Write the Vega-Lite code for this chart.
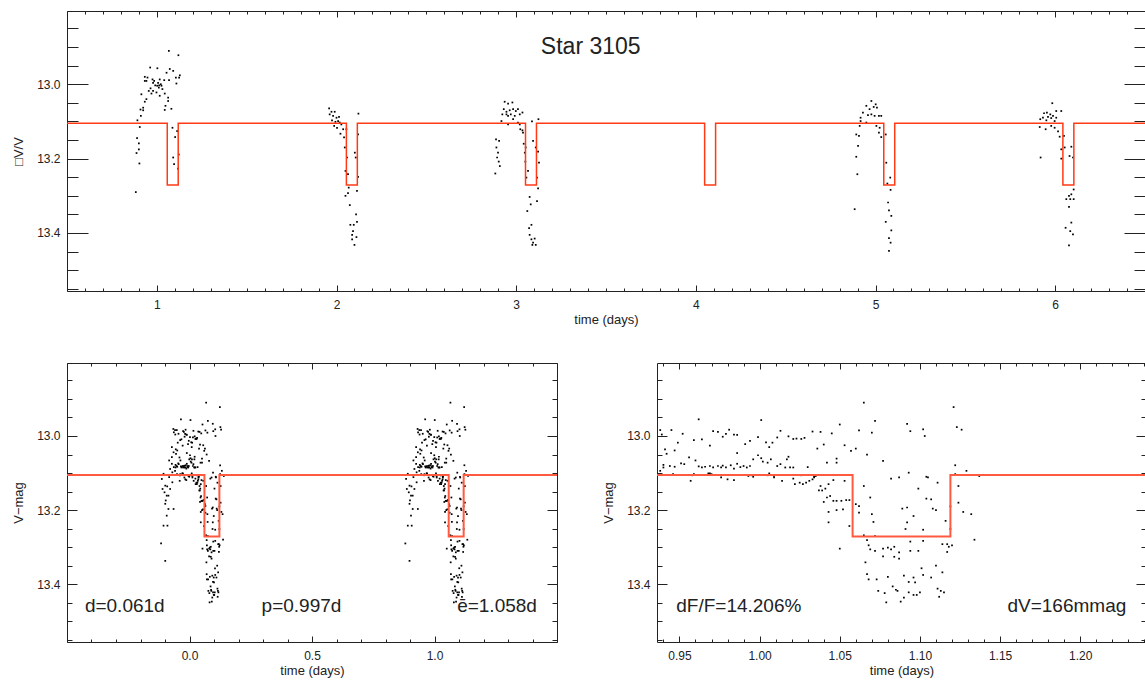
{
  "$schema": "https://vega.github.io/schema/vega-lite/v6.json",
  "padding": {"left": 12, "top": 10, "right": 0, "bottom": 0},
  "config": {
    "font": "Liberation Sans",
    "view": {"stroke": "#222", "strokeWidth": 1},
    "axis": {"grid": false, "domain": false, "labelFontSize": 12, "labelColor": "#222", "titleFontSize": 13, "titleFontWeight": "normal", "titleColor": "#222", "tickColor": "#222", "tickWidth": 1, "labelOverlap": false, "labelFlush": false},
    "text": {"font": "Liberation Sans", "color": "#222"}
  },
  "datasets": {
    "series": [
      {"t":1.067,"m":12.910},{"t":1.120,"m":12.922},{"t":0.963,"m":12.955},{"t":1.003,"m":12.957},{"t":1.072,"m":12.959},{"t":0.933,"m":12.980},{"t":0.948,"m":12.982},{"t":0.976,"m":12.987},{"t":1.016,"m":12.987},{"t":1.041,"m":12.989},{"t":1.054,"m":12.969},{"t":1.068,"m":12.989},{"t":1.091,"m":12.964},{"t":1.106,"m":12.982},{"t":1.128,"m":12.976},{"t":1.124,"m":12.982},{"t":1.109,"m":12.998},{"t":0.933,"m":12.991},{"t":0.942,"m":12.991},{"t":0.979,"m":12.996},{"t":0.991,"m":13.003},{"t":1.002,"m":13.004},{"t":1.013,"m":13.003},{"t":1.026,"m":13.004},{"t":0.965,"m":13.011},{"t":0.955,"m":13.018},{"t":0.979,"m":13.018},{"t":0.998,"m":13.022},{"t":1.011,"m":13.009},{"t":1.031,"m":13.013},{"t":0.970,"m":13.025},{"t":0.942,"m":13.040},{"t":0.933,"m":13.047},{"t":0.914,"m":13.027},{"t":1.016,"m":13.031},{"t":1.044,"m":13.025},{"t":1.063,"m":13.036},{"t":1.063,"m":13.045},{"t":1.048,"m":13.058},{"t":1.044,"m":13.069},{"t":1.081,"m":13.066},{"t":0.924,"m":13.063},{"t":0.924,"m":13.070},{"t":0.909,"m":13.068},{"t":0.911,"m":13.085},{"t":0.892,"m":13.097},{"t":0.905,"m":13.115},{"t":0.890,"m":13.145},{"t":0.900,"m":13.159},{"t":0.900,"m":13.175},{"t":0.887,"m":13.185},{"t":0.903,"m":13.213},{"t":0.883,"m":13.290},{"t":1.087,"m":13.117},{"t":1.113,"m":13.126},{"t":1.102,"m":13.142},{"t":1.122,"m":13.189},{"t":1.091,"m":13.197},{"t":1.118,"m":13.227},{"t":1.096,"m":13.215},{"t":0.985,"m":12.991},{"t":1.007,"m":12.996},{"t":1.022,"m":13.000},
      {"t":1.959,"m":13.065},{"t":1.972,"m":13.074},{"t":1.990,"m":13.074},{"t":1.962,"m":13.081},{"t":1.981,"m":13.085},{"t":2.000,"m":13.090},{"t":2.014,"m":13.088},{"t":1.975,"m":13.097},{"t":1.994,"m":13.101},{"t":2.009,"m":13.099},{"t":2.018,"m":13.103},{"t":2.027,"m":13.108},{"t":1.987,"m":13.112},{"t":2.003,"m":13.117},{"t":2.037,"m":13.121},{"t":2.055,"m":13.121},{"t":2.022,"m":13.133},{"t":2.042,"m":13.143},{"t":2.046,"m":13.170},{"t":2.059,"m":13.197},{"t":2.050,"m":13.233},{"t":2.064,"m":13.242},{"t":2.102,"m":13.184},{"t":2.107,"m":13.197},{"t":2.120,"m":13.135},{"t":2.122,"m":13.079},{"t":2.120,"m":13.249},{"t":2.068,"m":13.278},{"t":2.064,"m":13.293},{"t":2.050,"m":13.300},{"t":2.114,"m":13.287},{"t":2.074,"m":13.325},{"t":2.109,"m":13.350},{"t":2.114,"m":13.370},{"t":2.077,"m":13.378},{"t":2.096,"m":13.378},{"t":2.092,"m":13.395},{"t":2.087,"m":13.405},{"t":2.111,"m":13.411},{"t":2.087,"m":13.417},{"t":2.100,"m":13.432},
      {"t":2.936,"m":13.047},{"t":2.955,"m":13.052},{"t":2.979,"m":13.049},{"t":2.931,"m":13.067},{"t":2.946,"m":13.074},{"t":2.964,"m":13.070},{"t":2.983,"m":13.067},{"t":2.998,"m":13.072},{"t":3.010,"m":13.067},{"t":2.923,"m":13.081},{"t":2.946,"m":13.081},{"t":2.970,"m":13.081},{"t":2.992,"m":13.085},{"t":3.020,"m":13.081},{"t":3.035,"m":13.076},{"t":2.918,"m":13.099},{"t":2.955,"m":13.108},{"t":2.983,"m":13.094},{"t":3.010,"m":13.103},{"t":3.020,"m":13.108},{"t":3.023,"m":13.121},{"t":3.035,"m":13.124},{"t":3.038,"m":13.130},{"t":3.042,"m":13.160},{"t":3.053,"m":13.170},{"t":3.048,"m":13.184},{"t":3.051,"m":13.208},{"t":3.057,"m":13.251},{"t":3.066,"m":13.233},{"t":3.088,"m":13.100},{"t":3.124,"m":13.094},{"t":3.094,"m":13.152},{"t":3.109,"m":13.170},{"t":3.122,"m":13.181},{"t":3.127,"m":13.211},{"t":3.116,"m":13.251},{"t":3.122,"m":13.280},{"t":3.075,"m":13.303},{"t":3.116,"m":13.314},{"t":3.081,"m":13.323},{"t":3.062,"m":13.341},{"t":3.085,"m":13.378},{"t":3.072,"m":13.387},{"t":3.075,"m":13.405},{"t":3.085,"m":13.417},{"t":3.103,"m":13.415},{"t":3.094,"m":13.426},{"t":3.109,"m":13.432},{"t":3.090,"m":13.432},{"t":2.888,"m":13.148},{"t":2.905,"m":13.152},{"t":2.890,"m":13.170},{"t":2.899,"m":13.184},{"t":2.894,"m":13.197},{"t":2.903,"m":13.208},{"t":2.909,"m":13.220},{"t":2.884,"m":13.240},{"t":2.955,"m":13.085},
      {"t":4.977,"m":13.045},{"t":5.001,"m":13.054},{"t":4.949,"m":13.058},{"t":4.967,"m":13.067},{"t":4.990,"m":13.061},{"t":5.008,"m":13.063},{"t":4.958,"m":13.083},{"t":4.977,"m":13.081},{"t":4.995,"m":13.085},{"t":5.019,"m":13.085},{"t":5.032,"m":13.085},{"t":4.917,"m":13.090},{"t":4.949,"m":13.103},{"t":4.912,"m":13.112},{"t":5.005,"m":13.112},{"t":5.023,"m":13.117},{"t":5.019,"m":13.130},{"t":5.032,"m":13.142},{"t":4.893,"m":13.135},{"t":4.908,"m":13.139},{"t":4.903,"m":13.166},{"t":4.893,"m":13.195},{"t":4.899,"m":13.242},{"t":4.884,"m":13.336},{"t":5.057,"m":13.135},{"t":5.060,"m":13.211},{"t":5.066,"m":13.267},{"t":5.082,"m":13.251},{"t":5.084,"m":13.284},{"t":5.070,"m":13.318},{"t":5.075,"m":13.339},{"t":5.088,"m":13.354},{"t":5.057,"m":13.370},{"t":5.088,"m":13.393},{"t":5.075,"m":13.414},{"t":5.084,"m":13.426},{"t":5.075,"m":13.448},{"t":4.930,"m":13.076},{"t":4.917,"m":13.099},
      {"t":5.984,"m":13.051},{"t":6.034,"m":13.072},{"t":6.006,"m":13.072},{"t":5.938,"m":13.078},{"t":5.954,"m":13.076},{"t":5.973,"m":13.081},{"t":5.988,"m":13.085},{"t":5.932,"m":13.090},{"t":5.960,"m":13.088},{"t":5.978,"m":13.091},{"t":6.006,"m":13.090},{"t":5.951,"m":13.097},{"t":5.997,"m":13.099},{"t":5.917,"m":13.094},{"t":5.914,"m":13.115},{"t":5.947,"m":13.121},{"t":5.978,"m":13.112},{"t":5.997,"m":13.117},{"t":6.016,"m":13.127},{"t":6.025,"m":13.141},{"t":6.049,"m":13.139},{"t":6.034,"m":13.175},{"t":6.053,"m":13.170},{"t":6.080,"m":13.193},{"t":6.099,"m":13.197},{"t":6.090,"m":13.168},{"t":5.919,"m":13.197},{"t":6.034,"m":13.200},{"t":6.103,"m":13.283},{"t":6.090,"m":13.296},{"t":6.062,"m":13.309},{"t":6.077,"m":13.300},{"t":6.084,"m":13.309},{"t":6.103,"m":13.309},{"t":6.077,"m":13.330},{"t":6.058,"m":13.386},{"t":6.090,"m":13.372},{"t":6.084,"m":13.395},{"t":6.099,"m":13.404},{"t":6.077,"m":13.433}
    ],
    "folded": [
      {"a":-0.035,"b":0.962,"m":12.955},{"a":0.004,"b":1.001,"m":12.957},{"a":0.068,"b":1.065,"m":12.910},{"a":0.053,"b":1.050,"m":12.969},{"a":0.075,"b":1.072,"m":12.959},{"a":0.095,"b":1.092,"m":12.967},{"a":0.097,"b":1.094,"m":12.987},{"a":0.105,"b":1.102,"m":12.982},{"a":0.106,"b":1.103,"m":13.000},{"a":0.124,"b":1.121,"m":12.922},{"a":0.126,"b":1.123,"m":12.976},{"a":0.129,"b":1.126,"m":12.983},{"a":0.065,"b":1.062,"m":12.985},{"a":0.073,"b":1.070,"m":12.991},{"a":0.070,"b":1.067,"m":13.050},{"a":0.080,"b":1.077,"m":13.067},{"a":0.125,"b":1.122,"m":13.079},{"a":0.132,"b":1.129,"m":13.094},{"a":0.096,"b":1.093,"m":13.099},{"a":0.140,"b":1.137,"m":13.108},
      {"a":-0.059,"b":0.938,"m":12.984},{"a":-0.058,"b":0.939,"m":12.996},{"a":-0.052,"b":0.945,"m":12.984},{"a":-0.045,"b":0.952,"m":12.994},{"a":-0.048,"b":0.949,"m":13.018},{"a":-0.056,"b":0.941,"m":13.036},{"a":-0.055,"b":0.942,"m":13.048},{"a":-0.050,"b":0.947,"m":13.039},{"a":-0.038,"b":0.959,"m":13.011},{"a":-0.033,"b":0.964,"m":13.009},{"a":-0.028,"b":0.969,"m":13.026},{"a":-0.026,"b":0.971,"m":12.987},{"a":-0.023,"b":0.974,"m":12.989},{"a":-0.020,"b":0.977,"m":13.002},{"a":-0.016,"b":0.981,"m":12.983},{"a":-0.018,"b":0.979,"m":12.994},{"a":-0.013,"b":0.984,"m":12.996},{"a":-0.011,"b":0.986,"m":12.997},{"a":-0.003,"b":0.994,"m":13.013},{"a":0.002,"b":0.999,"m":13.003},{"a":-0.006,"b":0.991,"m":13.022},{"a":-0.011,"b":0.986,"m":13.046},{"a":0.007,"b":1.004,"m":13.017},{"a":0.009,"b":1.006,"m":13.030},{"a":0.011,"b":1.008,"m":13.018},{"a":0.014,"b":1.011,"m":13.004},{"a":0.016,"b":1.013,"m":12.986},{"a":0.021,"b":1.018,"m":13.001},{"a":0.024,"b":1.021,"m":13.008},{"a":0.026,"b":1.023,"m":13.007},{"a":0.029,"b":1.026,"m":13.008},{"a":0.031,"b":1.028,"m":13.005},{"a":0.036,"b":1.033,"m":12.988},{"a":0.041,"b":1.038,"m":12.989},{"a":0.048,"b":1.045,"m":12.993},{"a":0.039,"b":1.036,"m":13.034},{"a":0.043,"b":1.040,"m":13.023},{"a":0.056,"b":1.053,"m":13.025},{"a":0.060,"b":1.057,"m":13.040},{"a":0.063,"b":1.060,"m":13.034},
      {"a":0.045,"b":1.042,"m":13.072},{"a":0.051,"b":1.048,"m":13.061},{"a":0.051,"b":1.048,"m":13.072},{"a":0.033,"b":1.030,"m":13.084},{"a":0.021,"b":1.018,"m":13.056},{"a":0.020,"b":1.017,"m":13.063},{"a":0.016,"b":1.013,"m":13.076},{"a":0.019,"b":1.016,"m":13.085},{"a":0.022,"b":1.019,"m":13.085},{"a":0.024,"b":1.021,"m":13.085},{"a":0.014,"b":1.011,"m":13.081},{"a":0.010,"b":1.007,"m":13.063},{"a":0.008,"b":1.005,"m":13.072},{"a":0.004,"b":1.001,"m":13.060},{"a":0.005,"b":1.002,"m":13.069},{"a":0.002,"b":0.999,"m":13.052},{"a":-0.001,"b":0.996,"m":13.063},{"a":-0.003,"b":0.994,"m":13.081},{"a":-0.005,"b":0.992,"m":13.085},{"a":-0.007,"b":0.990,"m":13.081},{"a":-0.009,"b":0.988,"m":13.084},{"a":-0.011,"b":0.986,"m":13.075},{"a":-0.013,"b":0.984,"m":13.088},{"a":-0.015,"b":0.982,"m":13.079},{"a":-0.018,"b":0.979,"m":13.085},{"a":-0.020,"b":0.977,"m":13.080},{"a":-0.021,"b":0.976,"m":13.085},{"a":-0.023,"b":0.974,"m":13.081},{"a":-0.026,"b":0.971,"m":13.085},{"a":-0.028,"b":0.969,"m":13.081},{"a":-0.031,"b":0.966,"m":13.083},{"a":-0.033,"b":0.964,"m":13.085},{"a":-0.035,"b":0.962,"m":13.082},{"a":-0.037,"b":0.960,"m":13.066},{"a":-0.041,"b":0.956,"m":13.058},{"a":-0.044,"b":0.953,"m":13.076},{"a":-0.046,"b":0.951,"m":13.074},{"a":-0.050,"b":0.947,"m":13.083},{"a":-0.053,"b":0.944,"m":13.081},{"a":-0.057,"b":0.940,"m":13.078},{"a":-0.059,"b":0.938,"m":13.094},{"a":-0.057,"b":0.940,"m":13.085},{"a":-0.039,"b":0.958,"m":13.106},{"a":-0.028,"b":0.969,"m":13.101},{"a":-0.021,"b":0.976,"m":13.112},{"a":-0.002,"b":0.995,"m":13.106},{"a":0.008,"b":1.005,"m":13.106},{"a":0.012,"b":1.009,"m":13.112},{"a":0.029,"b":1.026,"m":13.106},{"a":0.037,"b":1.034,"m":13.110},{"a":0.085,"b":1.082,"m":13.115},{"a":0.090,"b":1.087,"m":13.112},{"a":0.107,"b":1.104,"m":13.110},{"a":0.125,"b":1.122,"m":13.103},
      {"a":-0.051,"b":0.946,"m":13.103},{"a":-0.040,"b":0.957,"m":13.121},{"a":-0.038,"b":0.959,"m":13.103},{"a":-0.029,"b":0.968,"m":13.101},{"a":-0.027,"b":0.970,"m":13.103},{"a":-0.017,"b":0.980,"m":13.117},{"a":-0.013,"b":0.984,"m":13.119},{"a":-0.004,"b":0.993,"m":13.108},{"a":-0.001,"b":0.996,"m":13.110},{"a":0.009,"b":1.006,"m":13.101},{"a":0.012,"b":1.009,"m":13.108},{"a":0.017,"b":1.014,"m":13.121},{"a":0.024,"b":1.021,"m":13.115},{"a":0.025,"b":1.022,"m":13.130},{"a":0.028,"b":1.025,"m":13.126},{"a":0.030,"b":1.027,"m":13.130},{"a":0.032,"b":1.029,"m":13.126},{"a":0.034,"b":1.031,"m":13.121},{"a":0.036,"b":1.033,"m":13.117},{"a":0.037,"b":1.034,"m":13.112},{"a":0.038,"b":1.035,"m":13.108},{"a":0.041,"b":1.038,"m":13.135},{"a":0.042,"b":1.039,"m":13.147},{"a":0.044,"b":1.041,"m":13.142},{"a":0.046,"b":1.043,"m":13.130},{"a":0.049,"b":1.046,"m":13.119},{"a":0.040,"b":1.037,"m":13.147},{"a":0.043,"b":1.040,"m":13.178},{"a":0.045,"b":1.042,"m":13.166},{"a":0.047,"b":1.044,"m":13.162},{"a":0.049,"b":1.046,"m":13.175},{"a":0.051,"b":1.048,"m":13.175},{"a":0.054,"b":1.051,"m":13.175},{"a":0.056,"b":1.053,"m":13.121},{"a":0.057,"b":1.054,"m":13.173},{"a":0.059,"b":1.056,"m":13.173},{"a":0.046,"b":1.043,"m":13.205},{"a":0.046,"b":1.043,"m":13.233},{"a":0.051,"b":1.048,"m":13.200},{"a":0.055,"b":1.052,"m":13.198},{"a":0.059,"b":1.056,"m":13.243},{"a":0.053,"b":1.050,"m":13.304},{"a":0.063,"b":1.060,"m":13.184},{"a":0.065,"b":1.062,"m":13.189},{"a":0.065,"b":1.062,"m":13.207},{"a":0.068,"b":1.065,"m":13.135},{"a":0.072,"b":1.069,"m":13.166},{"a":0.073,"b":1.070,"m":13.211},{"a":0.074,"b":1.071,"m":13.232},{"a":0.068,"b":1.065,"m":13.268},{"a":0.070,"b":1.067,"m":13.281},{"a":0.075,"b":1.072,"m":13.270},
      {"a":0.102,"b":1.099,"m":13.142},{"a":0.108,"b":1.105,"m":13.112},{"a":0.114,"b":1.111,"m":13.126},{"a":0.107,"b":1.104,"m":13.169},{"a":0.110,"b":1.107,"m":13.171},{"a":0.111,"b":1.108,"m":13.196},{"a":0.113,"b":1.110,"m":13.200},{"a":0.092,"b":1.089,"m":13.196},{"a":0.095,"b":1.092,"m":13.193},{"a":0.099,"b":1.096,"m":13.216},{"a":0.095,"b":1.092,"m":13.233},{"a":0.094,"b":1.091,"m":13.251},{"a":0.105,"b":1.102,"m":13.253},{"a":0.119,"b":1.116,"m":13.229},{"a":0.122,"b":1.119,"m":13.190},{"a":0.122,"b":1.119,"m":13.251},{"a":0.127,"b":1.124,"m":13.135},{"a":0.127,"b":1.124,"m":13.180},{"a":0.130,"b":1.127,"m":13.205},{"a":0.135,"b":1.132,"m":13.211},{"a":0.137,"b":1.134,"m":13.280},{"a":0.097,"b":1.094,"m":13.285},{"a":0.105,"b":1.102,"m":13.283},{"a":0.071,"b":1.068,"m":13.295},{"a":0.072,"b":1.069,"m":13.306},{"a":0.075,"b":1.072,"m":13.310},{"a":0.080,"b":1.077,"m":13.304},{"a":0.083,"b":1.080,"m":13.301},{"a":0.085,"b":1.082,"m":13.306},{"a":0.087,"b":1.084,"m":13.299},{"a":0.080,"b":1.077,"m":13.325},{"a":0.087,"b":1.084,"m":13.326},{"a":0.090,"b":1.087,"m":13.331},{"a":0.097,"b":1.094,"m":13.310},{"a":0.102,"b":1.099,"m":13.310},{"a":0.090,"b":1.087,"m":13.314},{"a":0.117,"b":1.114,"m":13.292},{"a":0.120,"b":1.117,"m":13.292},{"a":0.121,"b":1.118,"m":13.299},{"a":0.123,"b":1.120,"m":13.295},{"a":0.120,"b":1.117,"m":13.313},
      {"a":0.069,"b":1.066,"m":13.341},{"a":0.070,"b":1.067,"m":13.373},{"a":0.071,"b":1.068,"m":13.387},{"a":0.076,"b":1.073,"m":13.387},{"a":0.083,"b":1.080,"m":13.380},{"a":0.093,"b":1.090,"m":13.377},{"a":0.096,"b":1.093,"m":13.394},{"a":0.099,"b":1.096,"m":13.382},{"a":0.100,"b":1.097,"m":13.395},{"a":0.104,"b":1.101,"m":13.357},{"a":0.105,"b":1.102,"m":13.375},{"a":0.110,"b":1.107,"m":13.382},{"a":0.113,"b":1.110,"m":13.350},{"a":0.117,"b":1.114,"m":13.368},{"a":0.077,"b":1.074,"m":13.418},{"a":0.081,"b":1.078,"m":13.424},{"a":0.086,"b":1.083,"m":13.406},{"a":0.088,"b":1.085,"m":13.415},{"a":0.089,"b":1.086,"m":13.418},{"a":0.093,"b":1.090,"m":13.436},{"a":0.096,"b":1.093,"m":13.422},{"a":0.099,"b":1.096,"m":13.429},{"a":0.101,"b":1.098,"m":13.429},{"a":0.103,"b":1.100,"m":13.422},{"a":0.091,"b":1.088,"m":13.447},{"a":0.082,"b":1.079,"m":13.449},{"a":0.114,"b":1.111,"m":13.412},{"a":0.116,"b":1.113,"m":13.418},{"a":0.115,"b":1.112,"m":13.434},{"a":0.118,"b":1.115,"m":13.422},
      {"a":-0.106,"b":0.891,"m":13.102},{"a":-0.113,"b":0.884,"m":13.116},{"a":-0.099,"b":0.898,"m":13.134},{"a":-0.110,"b":0.887,"m":13.143},{"a":-0.102,"b":0.895,"m":13.152},{"a":-0.093,"b":0.904,"m":13.161},{"a":-0.097,"b":0.900,"m":13.174},{"a":-0.086,"b":0.911,"m":13.197},{"a":-0.093,"b":0.904,"m":13.215},{"a":-0.106,"b":0.891,"m":13.242},{"a":-0.090,"b":0.907,"m":13.242},{"a":-0.116,"b":0.881,"m":13.290},{"a":-0.099,"b":0.898,"m":13.337},{"a":-0.079,"b":0.918,"m":13.089},{"a":-0.072,"b":0.925,"m":13.075},{"a":-0.083,"b":0.914,"m":13.066},{"a":-0.072,"b":0.925,"m":13.057},{"a":-0.065,"b":0.932,"m":13.044},{"a":-0.072,"b":0.925,"m":13.030},{"a":-0.064,"b":0.933,"m":12.990},{"a":-0.066,"b":0.931,"m":12.981},{"a":-0.091,"b":0.906,"m":13.136},{"a":-0.099,"b":0.898,"m":13.183},{"a":-0.079,"b":0.918,"m":13.143},{"a":-0.065,"b":0.932,"m":13.197},{"a":-0.083,"b":0.914,"m":13.111},{"a":-0.070,"b":0.927,"m":13.098},{"a":-0.064,"b":0.933,"m":13.084},{"a":-0.086,"b":0.911,"m":13.161},{"a":-0.070,"b":0.927,"m":13.125}
    ],
    "modelTop": [
      {"t":0.5,"m":13.105},{"t":1.058,"m":13.271},{"t":1.119,"m":13.105},{"t":2.055,"m":13.271},{"t":2.116,"m":13.105},{"t":3.052,"m":13.271},{"t":3.113,"m":13.105},{"t":4.049,"m":13.271},{"t":4.110,"m":13.105},{"t":5.046,"m":13.271},{"t":5.107,"m":13.105},{"t":6.043,"m":13.271},{"t":6.104,"m":13.105},{"t":6.5,"m":13.105}
    ],
    "modelFold": [
      {"t":-0.5,"m":13.105},{"t":0.061,"m":13.271},{"t":0.122,"m":13.105},{"t":1.058,"m":13.271},{"t":1.119,"m":13.105},{"t":1.5,"m":13.105}
    ]
  },
  "spacing": 35,
  "vconcat": [
    {
      "width": 1078,
      "height": 280,
      "layer": [
        {
          "data": {"name": "series"},
          "mark": {"type": "square", "size": 3, "color": "#000", "opacity": 1, "clip": true},
          "encoding": {
            "x": {"field": "t", "type": "quantitative", "scale": {"domain": [0.5, 6.5], "nice": false, "zero": false},
                  "axis": {"orient": "bottom", "values": [1, 2, 3, 4, 5, 6], "format": "d", "ticks": false, "labelPadding": 8, "title": "time (days)", "titlePadding": 3}},
            "y": {"field": "m", "type": "quantitative", "scale": {"domain": [12.803, 13.556], "reverse": true, "nice": false, "zero": false},
                  "axis": {"orient": "left", "values": [13.0, 13.2, 13.4], "format": ".1f", "ticks": false, "labelPadding": 7, "title": "□V/V", "titlePadding": 11}}
          }
        },
        {
          "data": {"name": "modelTop"},
          "mark": {"type": "line", "interpolate": "step-after", "color": "#ff3a14", "strokeWidth": 1.5, "clip": true},
          "encoding": {
            "x": {"field": "t", "type": "quantitative",
                  "axis": {"orient": "bottom", "labels": false, "title": null, "values": [0.5,0.6,0.7,0.8,0.9,1,1.1,1.2,1.3,1.4,1.5,1.6,1.7,1.8,1.9,2,2.1,2.2,2.3,2.4,2.5,2.6,2.7,2.8,2.9,3,3.1,3.2,3.3,3.4,3.5,3.6,3.7,3.8,3.9,4,4.1,4.2,4.3,4.4,4.5,4.6,4.7,4.8,4.9,5,5.1,5.2,5.3,5.4,5.5,5.6,5.7,5.8,5.9,6,6.1,6.2,6.3,6.4,6.5],
                           "tickSize": {"condition": {"test": "abs(datum.value - round(datum.value)) < 0.001", "value": -6}, "value": -3}}},
            "y": {"field": "m", "type": "quantitative",
                  "axis": {"orient": "left", "labels": false, "title": null, "values": [12.85,12.9,12.95,13,13.05,13.1,13.15,13.2,13.25,13.3,13.35,13.4,13.45,13.5,13.55],
                           "tickSize": {"condition": {"test": "abs(datum.value*5 - round(datum.value*5)) < 0.001", "value": -21}, "value": -11}}}
          }
        },
        {
          "data": {"values": [{}]},
          "mark": {"type": "text", "fontSize": 23, "align": "center", "baseline": "alphabetic", "text": "Star 3105"},
          "encoding": {
            "x": {"datum": 3.415, "type": "quantitative",
                  "axis": {"orient": "top", "labels": false, "title": null, "values": [0.5,0.6,0.7,0.8,0.9,1,1.1,1.2,1.3,1.4,1.5,1.6,1.7,1.8,1.9,2,2.1,2.2,2.3,2.4,2.5,2.6,2.7,2.8,2.9,3,3.1,3.2,3.3,3.4,3.5,3.6,3.7,3.8,3.9,4,4.1,4.2,4.3,4.4,4.5,4.6,4.7,4.8,4.9,5,5.1,5.2,5.3,5.4,5.5,5.6,5.7,5.8,5.9,6,6.1,6.2,6.3,6.4,6.5],
                           "tickSize": {"condition": {"test": "abs(datum.value - round(datum.value)) < 0.001", "value": -6}, "value": -3}}},
            "y": {"datum": 12.918, "type": "quantitative",
                  "axis": {"orient": "right", "labels": false, "title": null, "values": [12.85,12.9,12.95,13,13.05,13.1,13.15,13.2,13.25,13.3,13.35,13.4,13.45,13.5,13.55],
                           "tickSize": {"condition": {"test": "abs(datum.value*5 - round(datum.value*5)) < 0.001", "value": -21}, "value": -11}}}
          }
        }
      ],
      "resolve": {"axis": {"x": "independent", "y": "independent"}}
    },
    {
      "spacing": 44,
      "hconcat": [
        {
          "width": 490,
          "height": 279,
          "layer": [
            {
              "data": {"name": "folded"},
              "mark": {"type": "square", "size": 3, "color": "#000", "opacity": 1, "clip": true},
              "encoding": {
                "x": {"field": "a", "type": "quantitative", "scale": {"domain": [-0.5, 1.5], "nice": false, "zero": false},
                      "axis": {"orient": "bottom", "values": [0, 0.5, 1], "format": ".1f", "ticks": false, "labelPadding": 8, "title": "time (days)", "titlePadding": 3}},
                "y": {"field": "m", "type": "quantitative", "scale": {"domain": [12.803, 13.556], "reverse": true, "nice": false, "zero": false},
                      "axis": {"orient": "left", "values": [13.0, 13.2, 13.4], "format": ".1f", "ticks": false, "labelPadding": 7, "title": "V−mag", "titlePadding": 11}}
              }
            },
            {
              "data": {"name": "folded"},
              "mark": {"type": "square", "size": 3, "color": "#000", "opacity": 1, "clip": true},
              "encoding": {
                "x": {"field": "b", "type": "quantitative", "axis": null},
                "y": {"field": "m", "type": "quantitative", "axis": null}
              }
            },
            {
              "data": {"name": "modelFold"},
              "mark": {"type": "line", "interpolate": "step-after", "color": "#ff5a40", "strokeWidth": 2, "clip": true},
              "encoding": {
                "x": {"field": "t", "type": "quantitative",
                      "axis": {"orient": "bottom", "labels": false, "title": null, "values": [-0.5,-0.4,-0.3,-0.2,-0.1,0,0.1,0.2,0.3,0.4,0.5,0.6,0.7,0.8,0.9,1,1.1,1.2,1.3,1.4,1.5],
                               "tickSize": {"condition": {"test": "abs(datum.value*2 - round(datum.value*2)) < 0.001", "value": -6}, "value": -3}}},
                "y": {"field": "m", "type": "quantitative",
                      "axis": {"orient": "left", "labels": false, "title": null, "values": [12.85,12.9,12.95,13,13.05,13.1,13.15,13.2,13.25,13.3,13.35,13.4,13.45,13.5,13.55],
                               "tickSize": {"condition": {"test": "abs(datum.value*5 - round(datum.value*5)) < 0.001", "value": -10}, "value": -5}}}
              }
            },
            {
              "data": {"values": [{}]},
              "mark": {"type": "text", "fontSize": 19, "align": "left", "baseline": "alphabetic", "text": "d=0.061d"},
              "encoding": {
                "x": {"datum": -0.427, "type": "quantitative",
                      "axis": {"orient": "top", "labels": false, "title": null, "values": [-0.5,-0.4,-0.3,-0.2,-0.1,0,0.1,0.2,0.3,0.4,0.5,0.6,0.7,0.8,0.9,1,1.1,1.2,1.3,1.4,1.5],
                               "tickSize": {"condition": {"test": "abs(datum.value*2 - round(datum.value*2)) < 0.001", "value": -6}, "value": -3}}},
                "y": {"datum": 13.475, "type": "quantitative",
                      "axis": {"orient": "right", "labels": false, "title": null, "values": [12.85,12.9,12.95,13,13.05,13.1,13.15,13.2,13.25,13.3,13.35,13.4,13.45,13.5,13.55],
                               "tickSize": {"condition": {"test": "abs(datum.value*5 - round(datum.value*5)) < 0.001", "value": -10}, "value": -5}}}
              }
            },
            {
              "data": {"values": [{}]},
              "mark": {"type": "text", "fontSize": 19, "align": "center", "baseline": "alphabetic", "text": "p=0.997d"},
              "encoding": {
                "x": {"datum": 0.457, "type": "quantitative", "axis": null},
                "y": {"datum": 13.475, "type": "quantitative", "axis": null}
              }
            },
            {
              "data": {"values": [{}]},
              "mark": {"type": "text", "fontSize": 19, "align": "right", "baseline": "alphabetic", "text": "ē=1.058d"},
              "encoding": {
                "x": {"datum": 1.418, "type": "quantitative", "axis": null},
                "y": {"datum": 13.475, "type": "quantitative", "axis": null}
              }
            }
          ],
          "resolve": {"axis": {"x": "independent", "y": "independent"}}
        },
        {
          "width": 489,
          "height": 279,
          "layer": [
            {
              "data": {"name": "folded"},
              "mark": {"type": "square", "size": 3, "color": "#000", "opacity": 1, "clip": true},
              "encoding": {
                "x": {"field": "b", "type": "quantitative", "scale": {"domain": [0.936, 1.241], "nice": false, "zero": false},
                      "axis": {"orient": "bottom", "values": [0.95, 1.0, 1.05, 1.1, 1.15, 1.2], "format": ".2f", "ticks": false, "labelPadding": 8, "title": "time (days)", "titlePadding": 3}},
                "y": {"field": "m", "type": "quantitative", "scale": {"domain": [12.803, 13.556], "reverse": true, "nice": false, "zero": false},
                      "axis": {"orient": "left", "values": [13.0, 13.2, 13.4], "format": ".1f", "ticks": false, "labelPadding": 7, "title": "V−mag", "titlePadding": 11}}
              }
            },
            {
              "data": {"name": "modelFold"},
              "mark": {"type": "line", "interpolate": "step-after", "color": "#ff5a40", "strokeWidth": 2, "clip": true},
              "encoding": {
                "x": {"field": "t", "type": "quantitative",
                      "axis": {"orient": "bottom", "labels": false, "title": null, "values": [0.94,0.95,0.96,0.97,0.98,0.99,1,1.01,1.02,1.03,1.04,1.05,1.06,1.07,1.08,1.09,1.1,1.11,1.12,1.13,1.14,1.15,1.16,1.17,1.18,1.19,1.2,1.21,1.22,1.23,1.24],
                               "tickSize": {"condition": {"test": "abs(datum.value*20 - round(datum.value*20)) < 0.001", "value": -6}, "value": -3}}},
                "y": {"field": "m", "type": "quantitative",
                      "axis": {"orient": "left", "labels": false, "title": null, "values": [12.85,12.9,12.95,13,13.05,13.1,13.15,13.2,13.25,13.3,13.35,13.4,13.45,13.5,13.55],
                               "tickSize": {"condition": {"test": "abs(datum.value*5 - round(datum.value*5)) < 0.001", "value": -10}, "value": -5}}}
              }
            },
            {
              "data": {"values": [{}]},
              "mark": {"type": "text", "fontSize": 19, "align": "left", "baseline": "alphabetic", "text": "dF/F=14.206%"},
              "encoding": {
                "x": {"datum": 0.948, "type": "quantitative",
                      "axis": {"orient": "top", "labels": false, "title": null, "values": [0.94,0.95,0.96,0.97,0.98,0.99,1,1.01,1.02,1.03,1.04,1.05,1.06,1.07,1.08,1.09,1.1,1.11,1.12,1.13,1.14,1.15,1.16,1.17,1.18,1.19,1.2,1.21,1.22,1.23,1.24],
                               "tickSize": {"condition": {"test": "abs(datum.value*20 - round(datum.value*20)) < 0.001", "value": -6}, "value": -3}}},
                "y": {"datum": 13.475, "type": "quantitative",
                      "axis": {"orient": "right", "labels": false, "title": null, "values": [12.85,12.9,12.95,13,13.05,13.1,13.15,13.2,13.25,13.3,13.35,13.4,13.45,13.5,13.55],
                               "tickSize": {"condition": {"test": "abs(datum.value*5 - round(datum.value*5)) < 0.001", "value": -10}, "value": -5}}}
              }
            },
            {
              "data": {"values": [{}]},
              "mark": {"type": "text", "fontSize": 19, "align": "right", "baseline": "alphabetic", "text": "dV=166mmag"},
              "encoding": {
                "x": {"datum": 1.2287, "type": "quantitative", "axis": null},
                "y": {"datum": 13.475, "type": "quantitative", "axis": null}
              }
            }
          ],
          "resolve": {"axis": {"x": "independent", "y": "independent"}}
        }
      ]
    }
  ]
}
